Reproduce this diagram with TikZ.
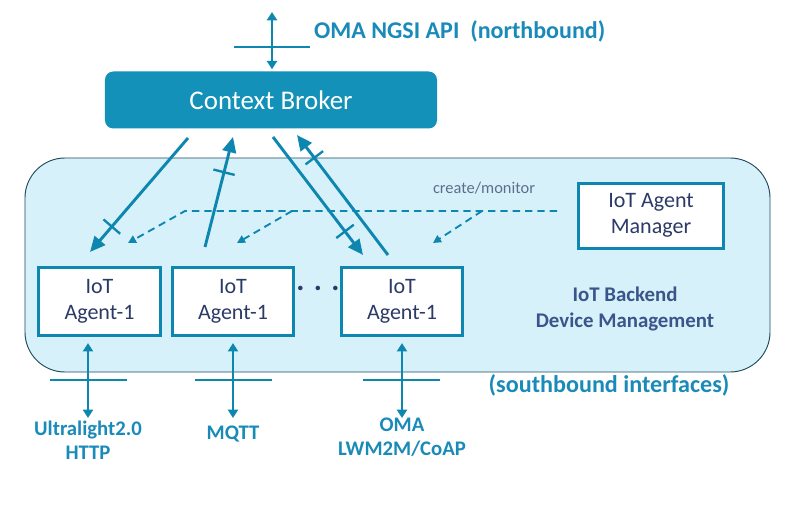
\documentclass[tikz,border=0pt]{standalone}
\usepackage{fontspec}
\setmainfont{Carlito}
\usetikzlibrary{arrows.meta, positioning, decorations.markings}

\definecolor{fwteal}{HTML}{0D87AF}
\definecolor{brokerfill}{HTML}{1391B8}
\definecolor{backfill}{HTML}{D7F1FA}
\definecolor{backline}{HTML}{1F4A5A}
\definecolor{agenttext}{HTML}{2B3A67}
\definecolor{backtext}{HTML}{3A5589}
\definecolor{notetext}{HTML}{5B6F8C}
\definecolor{labteal}{HTML}{1A8AB8}

\begin{document}
\begin{tikzpicture}[
    x=0.03cm, y=-0.03cm,
    agentbox/.style={draw=fwteal, line width=2.7pt, fill=white, minimum width=3.65cm, minimum height=2.05cm,
      align=center, text=agenttext, font=\fontsize{18.8}{22.5}\selectfont, text depth=4pt},
    flow/.style={-{Triangle[length=4.6mm, width=4.1mm]}, draw=fwteal, line width=2.5pt},
    ctrl/.style={-{Triangle[length=2.4mm, width=2.4mm]}, draw=fwteal, line width=1.6pt, dash pattern=on 2.2mm off 1.5mm},
    iface/.style={{Triangle[length=2.5mm, width=3mm]}-{Triangle[length=2.5mm, width=3mm]}, draw=fwteal, line width=2.5pt},
    bar/.style={draw=fwteal, line width=2.5pt},
    barred/.style={postaction={decorate, decoration={markings,
      mark=at position #1 with {\draw[-, fwteal, line width=2pt] (0,-11) -- (0,11);}}}},
    ifacelab/.style={text=labteal, font=\bfseries\fontsize{17.7}{20.5}\selectfont, align=center},
    ]
  \useasboundingbox (0,0) rectangle (785,511);

  \node[draw=backline, line width=0.8pt, fill=backfill, rounded corners=1.2cm,
    minimum width=22.35cm, minimum height=6.42cm] (backend) at (397.5,265) {};
  \node[fill=brokerfill, rounded corners=0.25cm, minimum width=9.96cm, minimum height=1.71cm,
    text=white, font=\fontsize{23}{27}\selectfont] (broker) at (271,100) {Context Broker};

  \node[agentbox] (agent1) at (99.5,301.5) {IoT\\Agent-1};
  \node[agentbox] (agent2) at (233,301.5) {IoT\\Agent-1};
  \node[agentbox] (agent3) at (402,301.5) {IoT\\Agent-1};
  \node[agentbox, minimum width=4.35cm, minimum height=1.95cm] (manager) at (651,216) {IoT Agent\\Manager};
  \node[text=agenttext, font=\bfseries\fontsize{26}{26}\selectfont] (dots) at (318,288) {.\hspace{0.28cm}.\hspace{0.28cm}.};

  \node[anchor=west, text=labteal, font=\bfseries\fontsize{20.5}{24}\selectfont] (nbapi) at (310,31) {OMA NGSI API\ \ (northbound)};
  \node[text=notetext, font=\fontsize{14}{17}\selectfont] (note) at (484,188) {create/monitor};
  \node[text=backtext, font=\bfseries\fontsize{17.8}{21.5}\selectfont, align=center] (backlab) at (625,309) {IoT Backend\\Device Management};
  \node[text=labteal, font=\bfseries\fontsize{20.6}{24}\selectfont] (sblab) at (609,385) {(southbound interfaces)};

  \node[ifacelab] (ul) at (88,440) {Ultralight2.0\\HTTP};
  \node[ifacelab] (mqtt) at (233,434) {MQTT};
  \node[ifacelab] (lwm) at (402,437) {OMA\\LWM2M/CoAP};

  % northbound
  \coordinate (ngsi) at (272,12);
  \draw[iface, shorten >=1.7pt] (ngsi) -- (broker.north -| ngsi);
  \draw[bar] (234,47) -- (310,47);

  % broker <-> agents
  \coordinate (b1) at (188,138); \coordinate (a1) at (90,252);
  \coordinate (a2) at (205,247); \coordinate (b2) at (233,137);
  \coordinate (b3) at (273,137); \coordinate (a3) at (363,255);
  \coordinate (a4) at (388,255); \coordinate (b4) at (297,135);
  \draw[flow, barred=0.78] (b1) -- (a1);
  \draw[flow, barred=0.68] (a2) -- (b2);
  \draw[flow, barred=0.8] (b3) -- (a3);
  \draw[flow, barred=0.81] (a4) -- (b4);

  % manager -> agents
  \coordinate (m0) at (557,211); \coordinate (m1) at (185,211);
  \coordinate (m2) at (292,211); \coordinate (m3) at (482,211);
  \draw[ctrl] (m0) -- (m1) -- (128,243);
  \draw[ctrl] (m2) -- (237,243);
  \draw[ctrl] (m3) -- (433,243);

  % southbound
  \coordinate (s1) at (88,418); \coordinate (s2) at (233,418); \coordinate (s3) at (402,418);
  \draw[iface, shorten <=5pt] (agent1.south -| s1) -- (s1);
  \draw[iface, shorten <=5pt] (agent2.south) -- (s2);
  \draw[iface, shorten <=5pt] (agent3.south) -- (s3);
  \draw[bar] (50,380) -- (127,380);
  \draw[bar] (195,380) -- (272,380);
  \draw[bar] (363,380) -- (440,380);
\end{tikzpicture}
\end{document}
